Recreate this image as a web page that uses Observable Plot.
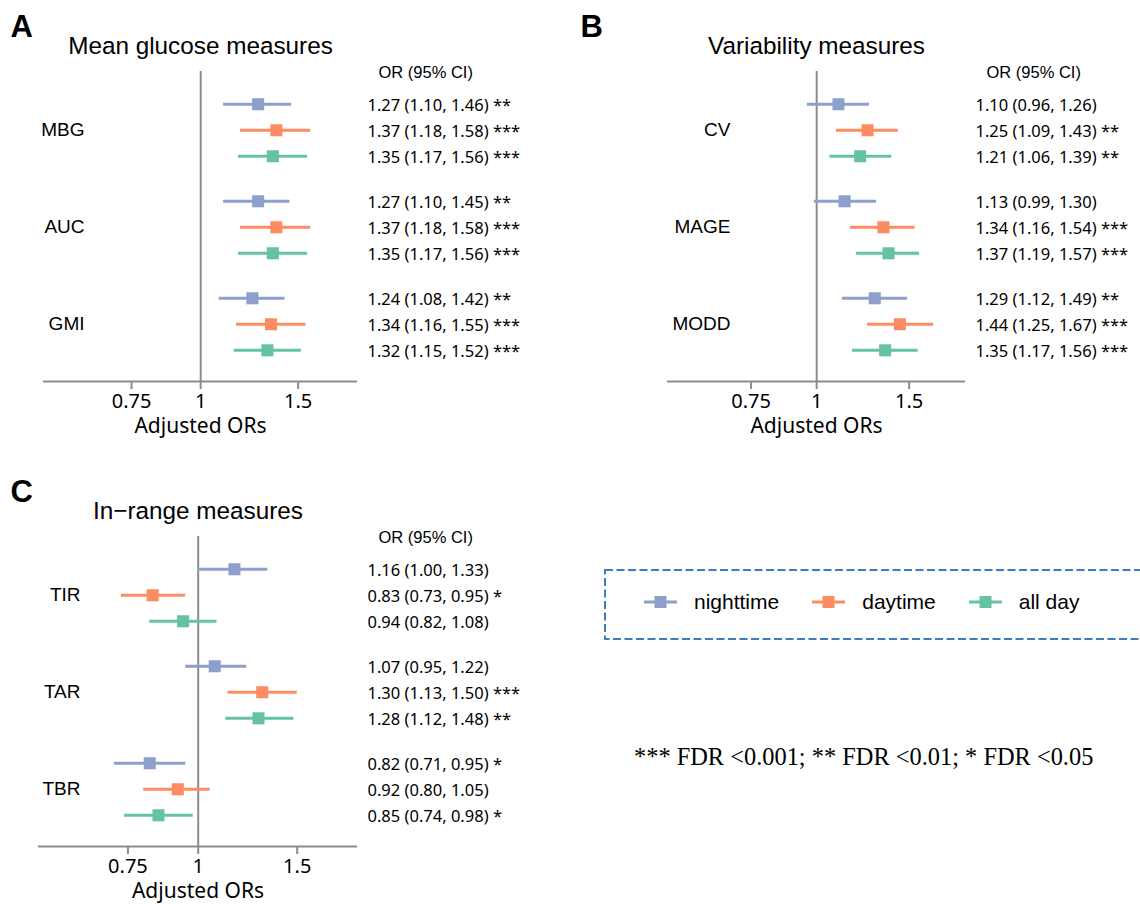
<!DOCTYPE html>
<html><head><meta charset="utf-8">
<script src="https://cdn.jsdelivr.net/npm/d3@7"></script>
<script src="https://cdn.jsdelivr.net/npm/@observablehq/plot@0.6"></script>
<style>
html,body{margin:0;padding:0;background:#fff;}
#root{position:relative;width:1140px;height:904px;overflow:hidden;font-family:"Liberation Sans",Arial,sans-serif;}
.panel{position:absolute;}
.panel svg{overflow:visible;}
</style></head><body><div id="root"></div>
<script>
// ---- data ----
const seriesNames = ["nighttime", "daytime", "all day"];
const seriesColors = ["#8da0cb", "#fc8d62", "#66c2a5"];
const tickValues = [0.75, 1, 1.5];
const tickLabels = ["0.75", "1", "1.5"];

const measuresA = ["MBG", "AUC", "GMI"];
const orA  = [[1.27, 1.37, 1.35], [1.27, 1.37, 1.35], [1.24, 1.34, 1.32]];
const loA  = [[1.10, 1.18, 1.17], [1.10, 1.18, 1.17], [1.08, 1.16, 1.15]];
const hiA  = [[1.46, 1.58, 1.56], [1.45, 1.58, 1.56], [1.42, 1.55, 1.52]];
const sigA = [["**", "***", "***"], ["**", "***", "***"], ["**", "***", "***"]];

const measuresB = ["CV", "MAGE", "MODD"];
const orB  = [[1.10, 1.25, 1.21], [1.13, 1.34, 1.37], [1.29, 1.44, 1.35]];
const loB  = [[0.96, 1.09, 1.06], [0.99, 1.16, 1.19], [1.12, 1.25, 1.17]];
const hiB  = [[1.26, 1.43, 1.39], [1.30, 1.54, 1.57], [1.49, 1.67, 1.56]];
const sigB = [["", "**", "**"], ["", "***", "***"], ["**", "***", "***"]];

const measuresC = ["TIR", "TAR", "TBR"];
const orC  = [[1.16, 0.83, 0.94], [1.07, 1.30, 1.28], [0.82, 0.92, 0.85]];
const loC  = [[1.00, 0.73, 0.82], [0.95, 1.13, 1.12], [0.71, 0.80, 0.74]];
const hiC  = [[1.33, 0.95, 1.08], [1.22, 1.50, 1.48], [0.95, 1.05, 0.98]];
const sigC = [["", "*", ""], ["", "***", "**"], ["*", "", "*"]];

const footnote = "*** FDR <0.001; ** FDR <0.01; * FDR <0.05";

// ---- drawing ----
const GAP = 0.73;
const GRAY = "#8c8c8c";

function panel({letter, title, measures, or, lo, hi, sig, width, marginLeft, marginRight, labelDx}) {
  const rows = [];
  measures.forEach((m, g) => seriesNames.forEach((s, i) => rows.push({
    measure: m, series: s, row: g * (3 + GAP) + i,
    or: or[g][i], lo: lo[g][i], hi: hi[g][i], sig: sig[g][i]
  })));
  const groups = measures.map((m, g) => ({measure: m, row: g * (3 + GAP) + 1}));
  const yTop = -1.26;
  const yBottom = (measures.length - 1) * (3 + GAP) + 2 + 1.2;
  return Plot.plot({
    width, height: 450,
    marginTop: 71, marginBottom: 69, marginLeft, marginRight,
    style: {fontFamily: "Noto Sans", fontSize: "20px", color: "black", background: "transparent", overflow: "visible"},
    x: {type: "log", domain: [0.52, 1.92]},
    y: {domain: [yBottom, yTop], axis: null},
    color: {domain: seriesNames, range: seriesColors},
    marks: [
      Plot.ruleX([1], {stroke: GRAY, strokeWidth: 2}),
      Plot.ruleY([yBottom], {stroke: GRAY, strokeWidth: 2}),
      Plot.axisX({ticks: tickValues, tickFormat: (d) => tickLabels[tickValues.indexOf(d)], tickSize: 8, tickPadding: 4,
        stroke: GRAY, strokeWidth: 2, fill: "black", fontSize: 20, label: null}),
      Plot.ruleY(rows, {y: "row", x1: "lo", x2: "hi", stroke: "series", strokeWidth: 3}),
      Plot.dot(rows, {x: "or", y: "row", symbol: "square", r: 6.8, fill: "series", stroke: null}),
      Plot.text(groups, {y: "row", text: "measure", frameAnchor: "left", dx: labelDx, textAnchor: "end",
        fontFamily: "Liberation Sans", fontSize: 19}),
      Plot.text(rows, {y: "row",
        text: (d) => `${d.or.toFixed(2)} (${d.lo.toFixed(2)}, ${d.hi.toFixed(2)})${d.sig ? " " + d.sig : ""}`,
        frameAnchor: "right", dx: 10, dy: 1.5, textAnchor: "start", fontSize: 16.5}),
      Plot.text(["OR (95% CI)"], {text: (d) => d, frameAnchor: "top-right", dx: 21, dy: 6, textAnchor: "start",
        lineAnchor: "bottom", fontFamily: "Liberation Sans", fontSize: 16.5}),
      Plot.text([title], {text: (d) => d, frameAnchor: "top", dy: -18, lineAnchor: "bottom",
        fontFamily: "Liberation Sans", fontSize: 24.3}),
      Plot.text([letter], {text: (d) => d, frameAnchor: "top-left", dx: 10 - marginLeft, dy: -35, textAnchor: "start",
        lineAnchor: "bottom", fontFamily: "Liberation Sans", fontWeight: "bold", fontSize: 31}),
      Plot.text(["Adjusted ORs"], {text: (d) => d, frameAnchor: "bottom", dy: 37, lineAnchor: "top", fontSize: 21})
    ]
  });
}

const root = document.getElementById("root");
function place(node, left, top) {
  const d = document.createElement("div");
  d.className = "panel";
  d.style.left = left + "px";
  d.style.top = top + "px";
  d.appendChild(node);
  root.appendChild(d);
}

place(panel({letter: "A", title: "Mean glucose measures", measures: measuresA, or: orA, lo: loA, hi: hiA, sig: sigA,
  width: 570, marginLeft: 43, marginRight: 213, labelDx: 41}), 0, 0);
place(panel({letter: "B", title: "Variability measures", measures: measuresB, or: orB, lo: loB, hi: hiB, sig: sigB,
  width: 570, marginLeft: 97, marginRight: 175, labelDx: 63}), 570, 0);
place(panel({letter: "C", title: "In\u2212range measures", measures: measuresC, or: orC, lo: loC, hi: hiC, sig: sigC,
  width: 570, marginLeft: 38, marginRight: 213, labelDx: 42}), 0, 465);

// legend box + footnote overlay
const ov = d3.select(root).append("svg")
  .attr("width", 1140).attr("height", 904)
  .style("position", "absolute").style("left", 0).style("top", 0).style("pointer-events", "none");
ov.append("rect").attr("x", 605).attr("y", 570).attr("width", 560).attr("height", 69)
  .attr("fill", "none").attr("stroke", "#3f7fbf").attr("stroke-width", 2).attr("stroke-dasharray", "8,3.5");

const leg = d3.select(root).append("div")
  .style("position", "absolute").style("left", "644px").style("top", "590px").style("height", "24px")
  .style("display", "flex").style("align-items", "center")
  .style("font-family", "'Liberation Sans', Arial, sans-serif").style("font-size", "21px");
seriesNames.forEach((s, i) => {
  const item = leg.append("div").style("display", "flex").style("align-items", "center")
    .style("margin-right", "33px");
  const sv = item.append("svg").attr("width", 33).attr("height", 14);
  sv.append("line").attr("x1", 0).attr("x2", 33).attr("y1", 7).attr("y2", 7)
    .attr("stroke", seriesColors[i]).attr("stroke-width", 3);
  sv.append("rect").attr("x", 10.5).attr("y", 1).attr("width", 12).attr("height", 12).attr("fill", seriesColors[i]);
  item.append("span").style("margin-left", "17px").text(s);
});

ov.append("text").attr("x", 634).attr("y", 765)
  .attr("font-family", "'Liberation Serif', 'Times New Roman', serif").attr("font-size", 24.4)
  .attr("fill", "black").text(footnote);
</script>
</body></html>
